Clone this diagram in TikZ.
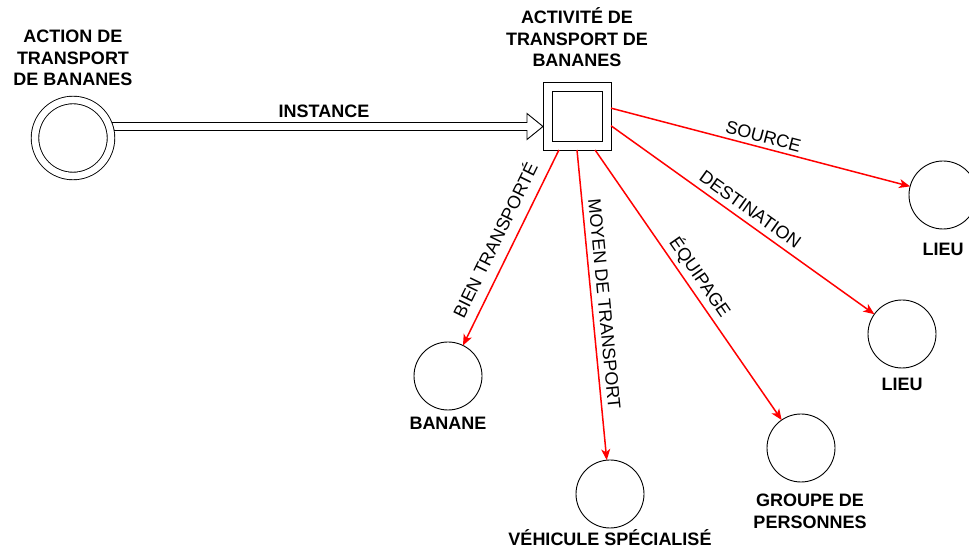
\documentclass[tikz,border=0pt]{standalone}
\usepackage{fontspec}
\setmainfont{Liberation Sans}
\usetikzlibrary{positioning,calc,arrows.meta,backgrounds}

\begin{document}
\begin{tikzpicture}[x=1pt, y=1pt,
    txt/.style={font=\fontsize{18}{21.5}\selectfont, text=black, inner sep=0pt, align=center},
    lbl/.style={txt, font=\fontsize{18}{21.5}\selectfont\bfseries},
    rond/.style={draw, circle, line width=0.9pt, minimum size=68pt, inner sep=0pt, outer sep=0pt},
    carre/.style={draw, line width=0.9pt, inner sep=0pt, outer sep=0pt},
    rel/.style={red, line width=1.5pt, -{Stealth[length=11pt, width=9pt, inset=3pt]}},
    hollow/.style={draw=black, fill=white, line width=0.9pt, line join=miter}]
        \useasboundingbox (0,0) rectangle (969,548);

        % Action (double circle)
        \node[rond, double, double distance=6.6pt, minimum size=76pt] (act) at (73,410) {};
        \node[lbl, above=14pt of act] (actlbl) {ACTION DE\\TRANSPORT\\DE BANANES};

        % Activity (double square)
        \node[carre, minimum size=68pt] (sq) at (577,432) {};
        \node[carre, minimum size=50pt] (sqin) at (sq) {};
        \node[lbl, above=15pt of sq] (sqlbl) {ACTIVITÉ DE\\TRANSPORT DE\\BANANES};

        % Instance arrow
        \coordinate (tail) at ($(act.center)+(40,11.5)$);
        \coordinate (tip) at ($(sq.west)+(0,-10.5)$);
        \begin{scope}[on background layer]
            \draw[hollow] ($(tail)+(-1.5,4)$) -- ($(tip)+(-16,4)$) -- ($(tip)+(-16,13)$) -- (tip)
                -- ($(tip)+(-16,-13)$) -- ($(tip)+(-16,-4)$) -- ($(tail)+(1,-4)$) -- cycle;
        \end{scope}
        \node[lbl, above=8.5pt, xshift=-4pt] (inst) at ($(tail)!0.5!(tip)$) {INSTANCE};

        % Concepts
        \node[rond] (lieuA) at (943,353) {};
        \node[lbl, below=14pt of lieuA] (lieuAlbl) {LIEU};
        \node[rond] (lieuB) at (902,214) {};
        \node[lbl, below=10pt of lieuB] (lieuBlbl) {LIEU};
        \node[rond] (banane) at (448,172) {};
        \node[lbl, below=7pt of banane] (bananelbl) {BANANE};
        \node[rond] (vehic) at (610,54) {};
        \node[lbl, below=1pt of vehic] (vehiclbl) {VÉHICULE SPÉCIALISÉ};
        \node[rond] (groupe) at (801,100) {};
        \node[lbl, below=12pt of groupe, xshift=9pt] (groupelbl) {GROUPE DE\\PERSONNES};

        % Relations
        \draw[rel] (sq.13) -- (lieuA) node[txt, midway, sloped, above=4pt] (src) {SOURCE};
        \draw[rel] (sq.344) -- (lieuB) node[txt, midway, sloped, above=6pt] (dest) {DESTINATION};
        \draw[rel] (sq.242) -- (banane) node[txt, midway, sloped, above=10pt] (bien) {BIEN TRANSPORTÉ};
        \draw[rel] (sq.south) -- (vehic) node[txt, midway, sloped, above=5.5pt] (moyen) {MOYEN DE TRANSPORT};
        \draw[rel] (sq.298) -- (groupe) node[txt, midway, sloped, above=4pt] (equip) {ÉQUIPAGE};
    \end{tikzpicture}
\end{document}
